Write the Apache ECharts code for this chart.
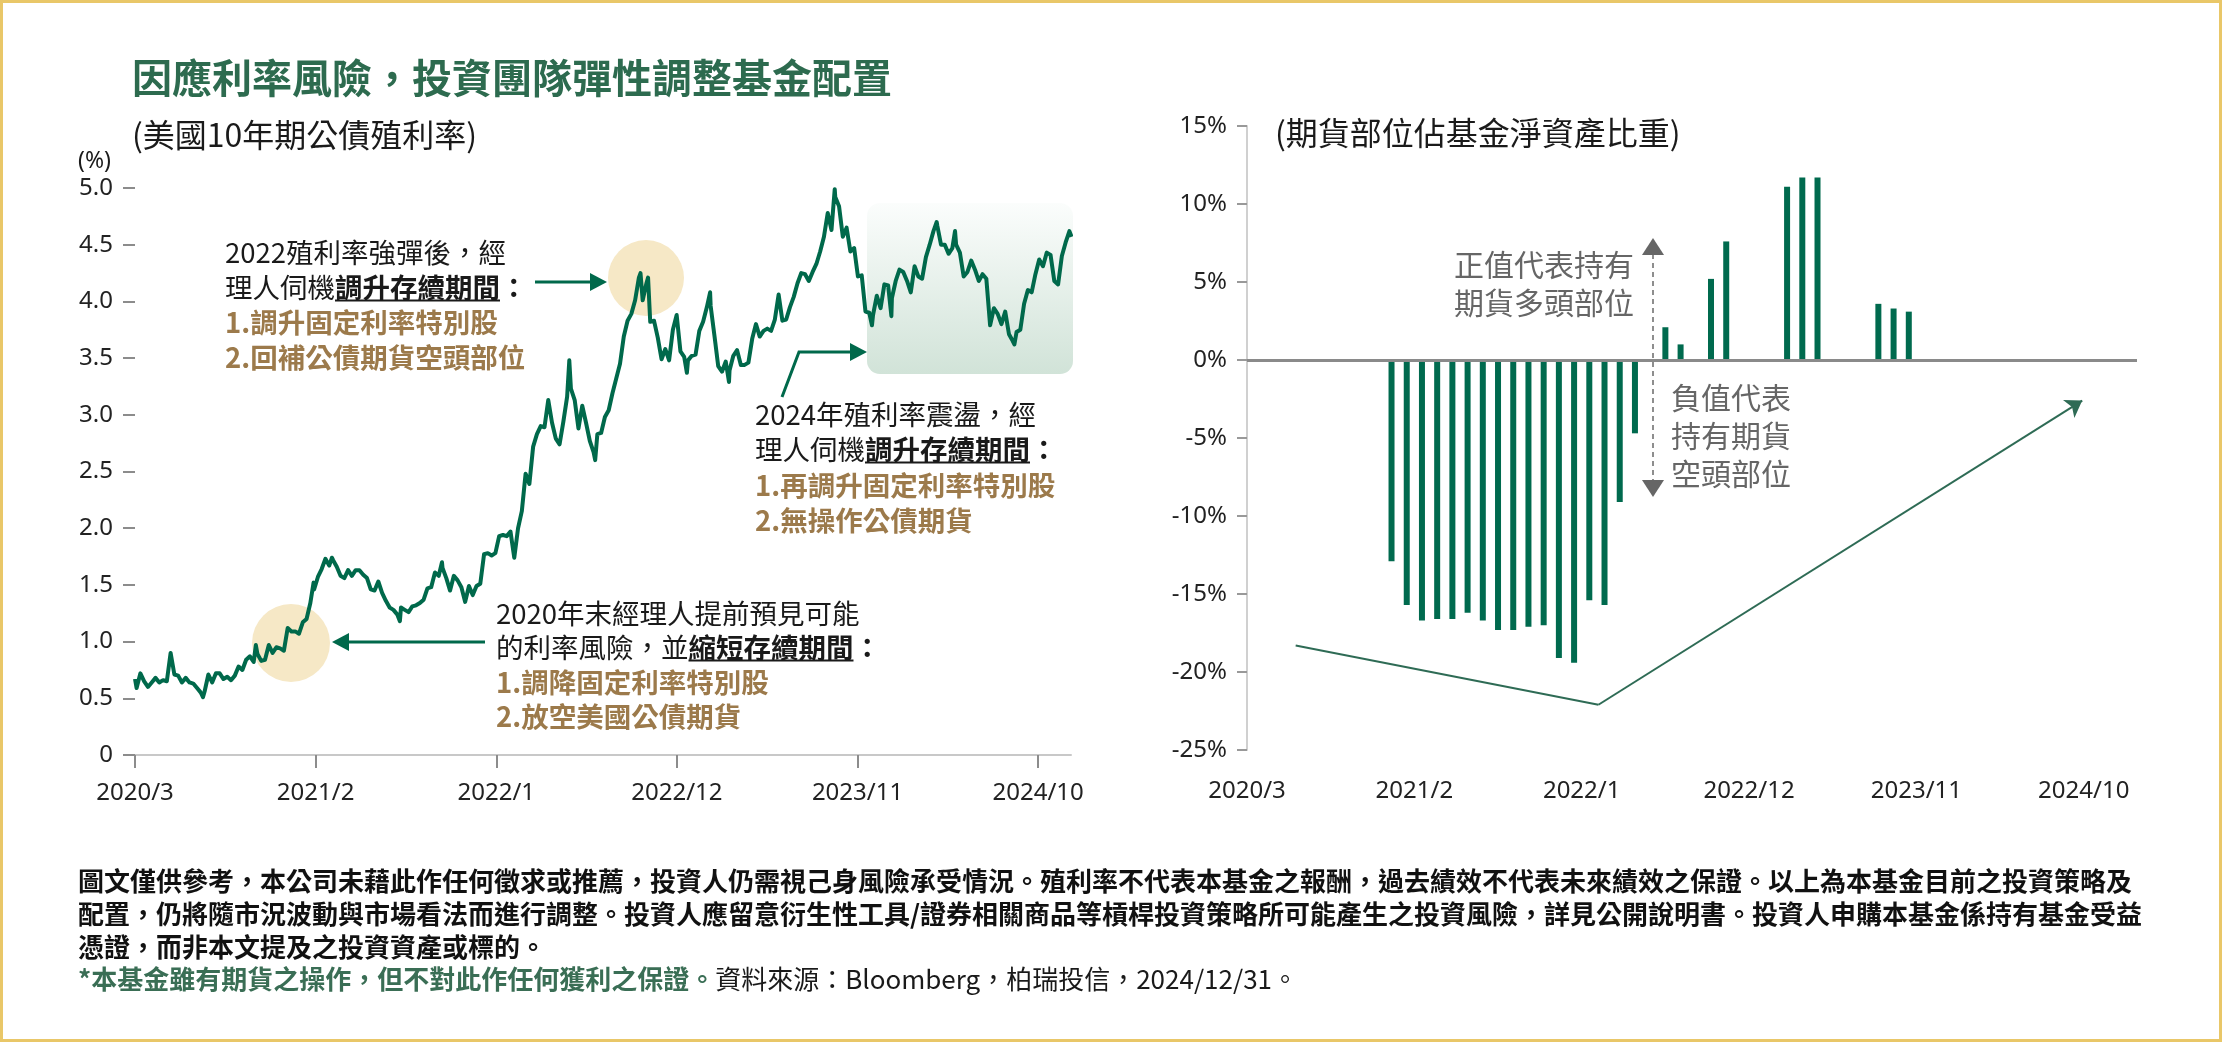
<!DOCTYPE html>
<html>
<head>
<meta charset="utf-8">
<script src="https://cdn.jsdelivr.net/npm/echarts@6/dist/echarts.min.js"></script>
<style>
html, body { margin: 0; padding: 0; background: #fff; }
#main { width: 2222px; height: 1042px; }
</style>
</head>
<body>
<div id="main"></div>
<script>
// 美國10年期公債殖利率 (%), weekly Friday closes starting 2020-04-03
var yieldStart = '2020-04-03';
var yield2020 = [0.59, 0.72, 0.65, 0.60, 0.64, 0.68, 0.64, 0.66, 0.65, 0.90, 0.71, 0.70, 0.64,
    0.68, 0.64, 0.63, 0.59, 0.55, 0.56, 0.71, 0.64, 0.72, 0.72, 0.67, 0.69, 0.66,
    0.70, 0.78, 0.75, 0.84, 0.87, 0.82, 0.89, 0.83, 0.84, 0.97, 0.90, 0.95, 0.94];
var yield2021 = [0.92, 1.12, 1.09, 1.09, 1.07, 1.17, 1.20, 1.34, 1.46, 1.57, 1.64, 1.73, 1.67,
    1.72, 1.66, 1.58, 1.56, 1.63, 1.58, 1.63, 1.63, 1.59, 1.56, 1.46, 1.45, 1.53,
    1.43, 1.36, 1.30, 1.28, 1.24, 1.30, 1.28, 1.26, 1.31, 1.32, 1.34, 1.37, 1.47,
    1.48, 1.61, 1.58, 1.65, 1.56, 1.45, 1.58, 1.54, 1.48, 1.35, 1.49, 1.41, 1.49, 1.51];
var yield2022 = [1.77, 1.78, 1.76, 1.78, 1.93, 1.94, 1.93, 1.97, 1.74, 2.00, 2.15, 2.48,
    2.39, 2.72, 2.83, 2.90, 2.89, 3.13, 2.93, 2.79, 2.74, 2.94, 3.16, 3.23, 3.13,
    2.88, 3.08, 2.93, 2.77, 2.67, 2.83, 2.84, 2.98, 3.04, 3.19, 3.32, 3.45, 3.69, 3.83,
    3.89, 4.01, 4.21, 4.01, 4.16, 3.82, 3.83, 3.68, 3.49, 3.58, 3.48, 3.75, 3.88];
var yield2023 = [3.56, 3.51, 3.48, 3.52, 3.53, 3.74, 3.82, 3.95, 3.96, 3.70, 3.43, 3.38, 3.47,
    3.39, 3.52, 3.57, 3.44, 3.44, 3.46, 3.67, 3.80, 3.69, 3.74, 3.76, 3.74, 3.84,
    4.06, 3.83, 3.84, 3.95, 4.04, 4.16, 4.25, 4.24, 4.18, 4.26, 4.33, 4.44, 4.57,
    4.78, 4.63, 4.92, 4.84, 4.57, 4.65, 4.44, 4.47, 4.22, 4.23, 3.91, 3.90, 3.88];
var yield2024 = [4.05, 3.94, 4.15, 4.14, 4.03, 4.18, 4.28, 4.26, 4.18, 4.08, 4.31, 4.22, 4.20,
    4.39, 4.50, 4.62, 4.67, 4.50, 4.50, 4.42, 4.47, 4.50, 4.43, 4.22, 4.26, 4.36,
    4.28, 4.18, 4.24, 4.20, 3.79, 3.94, 3.89, 3.80, 3.91, 3.71, 3.65, 3.73, 3.75,
    3.98, 4.10, 4.08, 4.24, 4.37, 4.31, 4.43, 4.41, 4.18, 4.15, 4.40, 4.52, 4.62];
// mid-week highs / lows and the two end points
var yieldExtra = [['2020-03-31', 0.67], ['2020-08-04', 0.51], ['2020-11-10', 0.97],
    ['2021-02-25', 1.52], ['2021-03-31', 1.74], ['2021-08-04', 1.18], ['2021-10-21', 1.70],
    ['2022-06-14', 3.48], ['2022-08-01', 2.60], ['2022-10-24', 4.25], ['2022-11-07', 4.21],
    ['2023-01-18', 3.37], ['2023-03-02', 4.08], ['2023-04-06', 3.29], ['2023-10-19', 4.99],
    ['2023-12-27', 3.79], ['2024-02-01', 3.87], ['2024-04-25', 4.70], ['2024-05-29', 4.62],
    ['2024-08-05', 3.78], ['2024-09-16', 3.62], ['2024-12-31', 4.57]];

// 期貨部位佔基金淨資產比重 (%), months without a position are left out
var futuresMonth = ['2020/12', '2021/1', '2021/2', '2021/3', '2021/4', '2021/5', '2021/6',
    '2021/7', '2021/8', '2021/9', '2021/10', '2021/11', '2021/12', '2022/1', '2022/2',
    '2022/3', '2022/4', '2022/6', '2022/7', '2022/9', '2022/10', '2023/2', '2023/3',
    '2023/4', '2023/8', '2023/9', '2023/10'];
var futuresPct = [-12.9, -15.7, -16.7, -16.6, -16.6, -16.2, -16.7, -17.3, -17.3, -17.1, -17.0,
    -19.1, -19.4, -15.4, -15.7, -9.1, -4.7, 2.1, 1.0, 5.2, 7.6, 11.1, 11.7, 11.7, 3.6, 3.3, 3.1];

var tickLabels = ['2020/3', '2021/2', '2022/1', '2022/12', '2023/11', '2024/10'];

var CJK = '"Noto Sans CJK TC", "Noto Sans", sans-serif';
var LATIN = '"Noto Sans", "Noto Sans CJK TC", sans-serif';
var GREEN = '#00694b';
var GOLD = '#9c7a4b';
var NOTE_SIZE = 27.5;

// months after 2020/3 (month end)
var t0 = Date.UTC(2020, 2, 31);
function monthsFrom(s) {
    var p = s.split('-');
    return (Date.UTC(+p[0], +p[1] - 1, +p[2]) - t0) / 86400000 / (365.25 / 12);
}

var yieldPoints = [];
var weekly = yield2020.concat(yield2021, yield2022, yield2023, yield2024);
var d0 = monthsFrom(yieldStart);
weekly.forEach(function (v, i) {
    yieldPoints.push([d0 + i * 7 / (365.25 / 12), v]);
});
yieldExtra.forEach(function (e) { yieldPoints.push([monthsFrom(e[0]), e[1]]); });
yieldPoints.sort(function (a, b) { return a[0] - b[0]; });

var barPoints = futuresMonth.map(function (m, i) {
    var p = m.split('/');
    return [(+p[0] - 2020) * 12 + (+p[1] - 3) + 0.5, futuresPct[i]];
});

var tickValues = tickLabels.map(function (t, i) { return i * 11; });
function tickFmt(v) {
    var i = Math.round(v / 11);
    return Math.abs(v - i * 11) < 0.01 ? tickLabels[i] : '';
}

// text measuring for the mixed-style annotation lines
var mctx = document.createElement('canvas').getContext('2d');
function textWidth(s, font) { mctx.font = font; return mctx.measureText(s).width; }

function richLine(x, y, parts, size) {
    var els = [];
    parts.forEach(function (p) {
        var font = (p.bold ? 'bold ' : 'normal ') + size + 'px ' + CJK;
        var w = textWidth(p.text, font);
        els.push({ type: 'text', x: x, y: y, style: { text: p.text, font: font, fill: p.color || '#1a1a1a', verticalAlign: 'middle' } });
        if (p.ul) {
            els.push({ type: 'line', shape: { x1: x, y1: y + size * 0.45, x2: x + w, y2: y + size * 0.45 }, style: { stroke: '#1a1a1a', lineWidth: 2 } });
        }
        x += w;
    });
    return els;
}

function noteBlock(x, ys, lines) {
    var els = [];
    lines.forEach(function (parts, i) { els = els.concat(richLine(x, ys[i], parts, NOTE_SIZE)); });
    return els;
}

var g = [];
// frame
g.push({ type: 'rect', shape: { x: 1.5, y: 1.5, width: 2219, height: 1039 }, style: { fill: null, stroke: '#e9c768', lineWidth: 3 } });
// highlight circles and box (under the line)
g.push({ type: 'circle', shape: { cx: 291, cy: 643, r: 39 }, style: { fill: '#f6e8c6' }, z: -1 });
g.push({ type: 'circle', shape: { cx: 646, cy: 278, r: 38 }, style: { fill: '#f6e8c6' }, z: -1 });
g.push({
    type: 'rect', shape: { x: 867, y: 203, width: 206, height: 171, r: 13 }, z: -1,
    style: { fill: new echarts.graphic.LinearGradient(0, 0, 0, 1, [{ offset: 0, color: '#fbfdfc' }, { offset: 1, color: '#d1e3d8' }]) }
});
// titles
g.push({ type: 'text', x: 132, y: 78, style: { text: '因應利率風險，投資團隊彈性調整基金配置', font: 'bold 40px ' + CJK, fill: '#2d6b4f', verticalAlign: 'middle' } });
g.push({ type: 'text', x: 132, y: 135, style: { text: '(美國10年期公債殖利率)', font: 'normal 32px ' + CJK, fill: '#1a1a1a', verticalAlign: 'middle' } });
g.push({ type: 'text', x: 78, y: 161, style: { text: '(%)', font: 'normal 23px ' + LATIN, fill: '#1a1a1a', verticalAlign: 'middle' } });
g.push({ type: 'text', x: 1275, y: 133, style: { text: '(期貨部位佔基金淨資產比重)', font: 'normal 32px ' + CJK, fill: '#1a1a1a', verticalAlign: 'middle' } });

// left chart notes
g = g.concat(noteBlock(225, [253, 288, 323, 358], [
    [{ text: '2022殖利率強彈後，經' }],
    [{ text: '理人伺機' }, { text: '調升存續期間', bold: true, ul: true }, { text: '：', bold: true }],
    [{ text: '1.調升固定利率特別股', bold: true, color: GOLD }],
    [{ text: '2.回補公債期貨空頭部位', bold: true, color: GOLD }]
]));
g = g.concat(noteBlock(755, [415, 450, 486, 521], [
    [{ text: '2024年殖利率震盪，經' }],
    [{ text: '理人伺機' }, { text: '調升存續期間', bold: true, ul: true }, { text: '：', bold: true }],
    [{ text: '1.再調升固定利率特別股', bold: true, color: GOLD }],
    [{ text: '2.無操作公債期貨', bold: true, color: GOLD }]
]));
g = g.concat(noteBlock(496, [614, 648, 683, 717], [
    [{ text: '2020年末經理人提前預見可能' }],
    [{ text: '的利率風險，並' }, { text: '縮短存續期間', bold: true, ul: true }, { text: '：', bold: true }],
    [{ text: '1.調降固定利率特別股', bold: true, color: GOLD }],
    [{ text: '2.放空美國公債期貨', bold: true, color: GOLD }]
]));

// note arrows
var arrowStyle = { stroke: GREEN, lineWidth: 3, fill: null };
g.push({ type: 'line', shape: { x1: 535, y1: 282, x2: 592, y2: 282 }, style: arrowStyle });
g.push({ type: 'polygon', shape: { points: [[590, 273], [607, 282], [590, 291]] }, style: { fill: GREEN } });
g.push({ type: 'line', shape: { x1: 485, y1: 642, x2: 347, y2: 642 }, style: arrowStyle });
g.push({ type: 'polygon', shape: { points: [[349, 633], [332, 642], [349, 651]] }, style: { fill: GREEN } });
g.push({ type: 'polyline', shape: { points: [[782, 397], [799, 352], [852, 352]] }, style: arrowStyle });
g.push({ type: 'polygon', shape: { points: [[850, 343], [867, 352], [850, 361]] }, style: { fill: GREEN } });

// right chart: long/short explanation
g.push({ type: 'line', shape: { x1: 1653, y1: 254, x2: 1653, y2: 481 }, style: { stroke: '#6a6a6a', lineWidth: 1.5, lineDash: [5, 4] } });
g.push({ type: 'polygon', shape: { points: [[1642, 255], [1653, 238], [1664, 255]] }, style: { fill: '#666' } });
g.push({ type: 'polygon', shape: { points: [[1642, 480], [1653, 497], [1664, 480]] }, style: { fill: '#666' } });
['正值代表持有', '期貨多頭部位'].forEach(function (t, i) {
    g.push({ type: 'text', x: 1634, y: 265 + i * 38, style: { text: t, font: 'normal 30px ' + CJK, fill: '#666', align: 'right', verticalAlign: 'middle' } });
});
['負值代表', '持有期貨', '空頭部位'].forEach(function (t, i) {
    g.push({ type: 'text', x: 1671, y: 398 + i * 38, style: { text: t, font: 'normal 30px ' + CJK, fill: '#666', verticalAlign: 'middle' } });
});

// footer
var footer = [
    '圖文僅供參考，本公司未藉此作任何徵求或推薦，投資人仍需視己身風險承受情況。殖利率不代表本基金之報酬，過去績效不代表未來績效之保證。以上為本基金目前之投資策略及',
    '配置，仍將隨市況波動與市場看法而進行調整。投資人應留意衍生性工具/證券相關商品等槓桿投資策略所可能產生之投資風險，詳見公開說明書。投資人申購本基金係持有基金受益',
    '憑證，而非本文提及之投資資產或標的。'
];
footer.forEach(function (t, i) {
    g.push({ type: 'text', x: 78, y: 881 + i * 33, style: { text: t, font: 'bold 26px ' + CJK, fill: '#111', verticalAlign: 'middle' } });
});
g = g.concat(richLine(78, 979, [
    { text: '*本基金雖有期貨之操作，但不對此作任何獲利之保證。', bold: true, color: '#3a6e55' },
    { text: '資料來源：Bloomberg，柏瑞投信，2024/12/31。', color: '#1a1a1a' }
], 26));

var axisLabelStyle = { fontSize: 24, color: '#222', fontFamily: LATIN };

var option = {
    animation: false,
    backgroundColor: '#fff',
    grid: [
        { left: 135, right: 1151, top: 188, bottom: 287 },
        { left: 1247, right: 85, top: 126, bottom: 292 }
    ],
    xAxis: [
        {
            type: 'value', gridIndex: 0, min: 0, max: 57,
            axisLine: { show: true, lineStyle: { color: '#c8c8c8', width: 2 } },
            axisTick: { show: true, length: 13, customValues: tickValues, lineStyle: { color: '#8c8c8c', width: 2 } },
            axisLabel: Object.assign({ margin: 26, customValues: tickValues, formatter: tickFmt }, axisLabelStyle),
            splitLine: { show: false }
        },
        {
            type: 'value', gridIndex: 1, min: 0, max: 58.5,
            axisLine: { show: false, onZero: false },
            axisTick: { show: false },
            axisLabel: Object.assign({ margin: 29, customValues: tickValues, formatter: tickFmt }, axisLabelStyle),
            splitLine: { show: false }
        }
    ],
    yAxis: [
        {
            type: 'value', gridIndex: 0, min: 0, max: 5, interval: 0.5,
            axisLine: { show: false },
            axisTick: { show: true, length: 12, lineStyle: { color: '#8c8c8c', width: 2 } },
            axisLabel: Object.assign({ margin: 22, formatter: function (v) { return v === 0 ? '0' : v.toFixed(1); } }, axisLabelStyle),
            splitLine: { show: false }
        },
        {
            type: 'value', gridIndex: 1, min: -25, max: 15, interval: 5,
            axisLine: { show: true, lineStyle: { color: '#d0d0d0', width: 2 } },
            axisTick: { show: true, length: 10, lineStyle: { color: '#999', width: 2 } },
            axisLabel: Object.assign({ margin: 20, formatter: function (v) { return v + '%'; } }, axisLabelStyle),
            splitLine: { show: false }
        }
    ],
    series: [
        {
            name: '美國10年期公債殖利率', type: 'line', xAxisIndex: 0, yAxisIndex: 0,
            data: yieldPoints, showSymbol: false, z: 3,
            lineStyle: { color: GREEN, width: 4, join: 'round' }
        },
        {
            name: '期貨部位佔基金淨資產比重', type: 'bar', xAxisIndex: 1, yAxisIndex: 1,
            data: barPoints, barWidth: 6, itemStyle: { color: '#006a4e' },
            markLine: {
                silent: true, symbol: ['none', 'none'], label: { show: false },
                data: [
                    { yAxis: 0, lineStyle: { color: '#8a8a8a', width: 3, type: 'solid' } },
                    [{ coord: [3.2, -18.3], lineStyle: { color: '#2e6b55', width: 2, type: 'solid' } }, { coord: [23.1, -22.1] }],
                    [{ coord: [23.1, -22.1], lineStyle: { color: '#2e6b55', width: 2, type: 'solid' } }, { coord: [54.9, -2.6], symbol: 'arrow', symbolSize: 16 }]
                ]
            }
        }
    ],
    graphic: { elements: g }
};

var chart = echarts.init(document.getElementById('main'));
chart.setOption(option);
</script>
</body>
</html>
